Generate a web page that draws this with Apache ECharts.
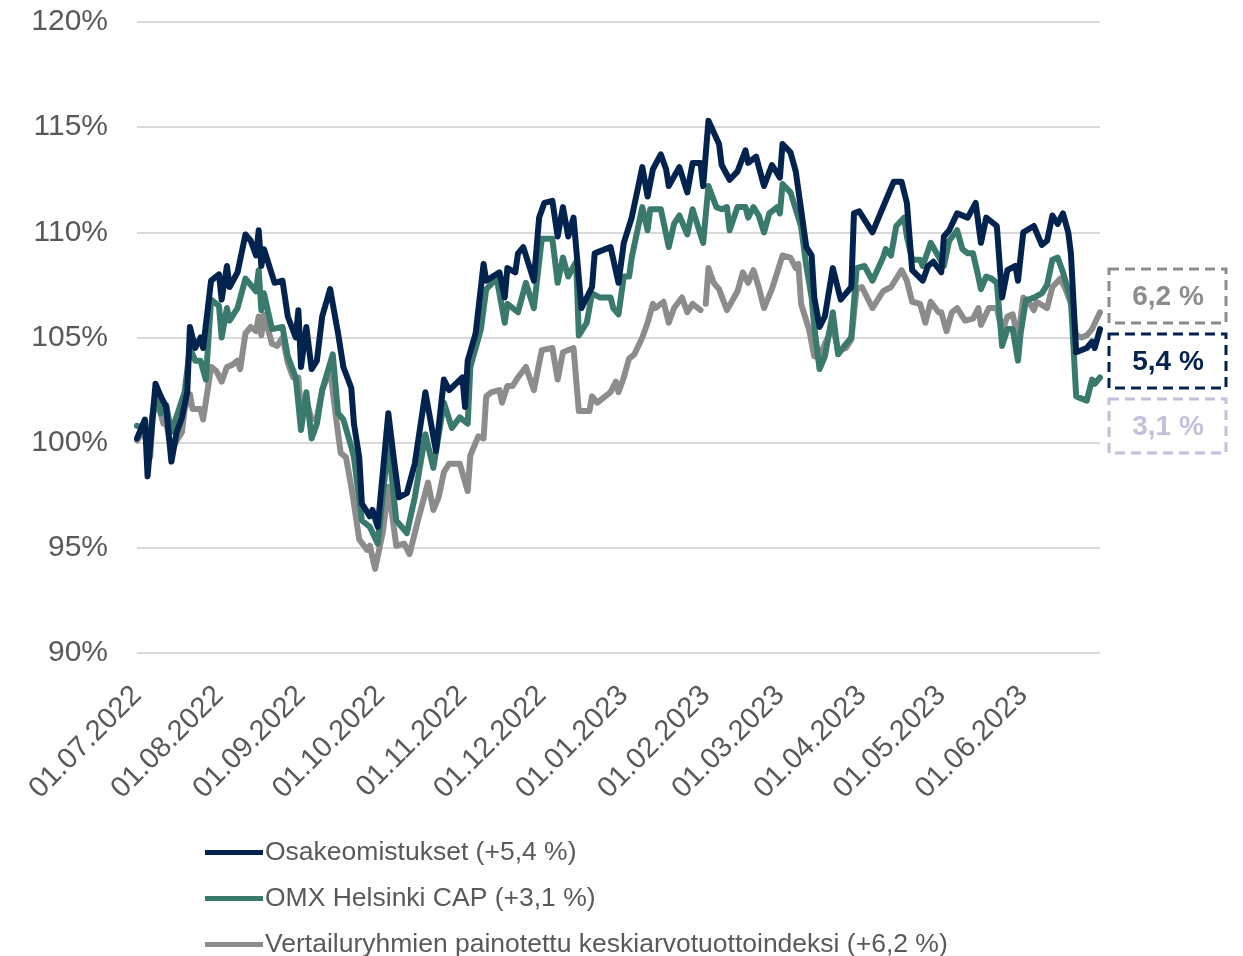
<!DOCTYPE html>
<html>
<head>
<meta charset="utf-8">
<script src="https://cdn.jsdelivr.net/npm/echarts@6/dist/echarts.min.js"></script>
<style>
  body { margin: 0; background: #fff; }
  #main { width: 1243px; height: 956px; }
</style>
</head>
<body>
<div id="main"></div>
<script>
// indeksi, 1.7.2022 = 100
var startDate = "2022-07-01";
var endDate = "2023-06-30";

var osakeomistukset = [
  ["2022-07-01",100.2],["2022-07-04",101.1],["2022-07-05",98.4],["2022-07-08",102.8],["2022-07-10",102.2],
  ["2022-07-12",101.7],["2022-07-14",99.1],["2022-07-16",100.5],["2022-07-18",101.2],["2022-07-20",102.4],
  ["2022-07-21",105.5],["2022-07-23",104.5],["2022-07-25",105.0],["2022-07-26",104.5],["2022-07-29",107.7],
  ["2022-08-01",108.0],["2022-08-02",106.8],["2022-08-04",108.4],["2022-08-05",107.4],["2022-08-08",108.1],
  ["2022-08-11",109.9],["2022-08-13",109.6],["2022-08-15",108.9],["2022-08-16",110.1],["2022-08-17",108.4],
  ["2022-08-18",109.2],["2022-08-22",107.6],["2022-08-25",107.7],["2022-08-27",106.0],["2022-08-30",105.0],
  ["2022-08-31",106.3],["2022-09-01",103.6],["2022-09-03",105.5],["2022-09-05",103.5],["2022-09-07",103.9],
  ["2022-09-09",106.0],["2022-09-12",107.3],["2022-09-15",105.2],["2022-09-17",103.6],["2022-09-20",102.6],
  ["2022-09-21",100.9],["2022-09-23",99.3],["2022-09-24",97.1],["2022-09-27",96.5],["2022-09-28",96.8],
  ["2022-09-30",96.0],["2022-10-04",101.4],["2022-10-06",99.3],["2022-10-08",97.4],["2022-10-11",97.6],
  ["2022-10-14",99.0],["2022-10-18",102.4],["2022-10-22",99.6],["2022-10-25",103.0],["2022-10-27",102.5],
  ["2022-11-01",103.1],["2022-11-02",101.7],["2022-11-03",103.9],["2022-11-06",105.2],["2022-11-09",108.5],
  ["2022-11-10",107.7],["2022-11-15",108.1],["2022-11-17",106.9],["2022-11-18",108.3],["2022-11-21",108.1],
  ["2022-11-22",109.0],["2022-11-24",109.3],["2022-11-28",107.7],["2022-11-30",110.7],["2022-12-02",111.4],
  ["2022-12-05",111.5],["2022-12-07",109.8],["2022-12-09",111.2],["2022-12-11",109.8],["2022-12-13",110.7],
  ["2022-12-16",106.4],["2022-12-20",107.4],["2022-12-21",109.0],["2022-12-27",109.3],["2022-12-30",107.6],
  ["2023-01-01",109.5],["2023-01-04",110.7],["2023-01-08",113.1],["2023-01-10",111.7],["2023-01-12",113.0],
  ["2023-01-15",113.7],["2023-01-17",113.0],["2023-01-18",112.2],["2023-01-22",113.1],["2023-01-25",111.9],
  ["2023-01-27",113.3],["2023-01-30",113.3],["2023-01-31",112.2],["2023-02-02",115.3],["2023-02-06",114.2],
  ["2023-02-07",113.2],["2023-02-10",112.5],["2023-02-13",112.9],["2023-02-16",113.9],["2023-02-17",113.3],
  ["2023-02-20",113.6],["2023-02-23",112.2],["2023-02-26",113.2],["2023-03-01",112.6],["2023-03-02",114.2],
  ["2023-03-05",113.8],["2023-03-07",112.9],["2023-03-11",109.3],["2023-03-13",108.9],["2023-03-14",106.9],
  ["2023-03-16",105.5],["2023-03-18",106.0],["2023-03-21",108.3],["2023-03-24",106.8],["2023-03-28",107.4],
  ["2023-03-29",110.9],["2023-03-31",111.0],["2023-04-05",110.0],["2023-04-08",110.9],["2023-04-10",111.5],
  ["2023-04-13",112.4],["2023-04-16",112.4],["2023-04-18",111.4],["2023-04-20",108.2],["2023-04-24",107.7],
  ["2023-04-26",108.4],["2023-04-28",108.6],["2023-05-01",108.1],["2023-05-02",109.8],["2023-05-04",110.1],
  ["2023-05-07",110.9],["2023-05-11",110.7],["2023-05-14",111.4],["2023-05-16",109.5],["2023-05-18",110.7],
  ["2023-05-22",110.3],["2023-05-24",106.9],["2023-05-26",108.2],["2023-05-29",108.4],["2023-05-30",107.7],
  ["2023-06-01",110.0],["2023-06-05",110.3],["2023-06-08",109.4],["2023-06-10",109.6],["2023-06-12",110.8],
  ["2023-06-14",110.4],["2023-06-16",110.9],["2023-06-18",110.0],["2023-06-19",109.0],["2023-06-21",104.3],
  ["2023-06-25",104.5],["2023-06-27",104.8],["2023-06-28",104.5],["2023-06-30",105.4]
];

var omxHelsinkiCap = [
  ["2022-07-01",100.8],["2022-07-04",100.7],["2022-07-05",99.5],["2022-07-08",102.4],["2022-07-10",101.4],
  ["2022-07-12",101.8],["2022-07-14",100.5],["2022-07-19",102.4],["2022-07-21",104.5],["2022-07-23",103.9],
  ["2022-07-25",103.9],["2022-07-27",103.0],["2022-07-29",106.8],["2022-08-01",106.5],["2022-08-02",105.0],
  ["2022-08-04",106.4],["2022-08-05",105.8],["2022-08-08",106.4],["2022-08-11",107.8],["2022-08-15",107.2],
  ["2022-08-16",108.2],["2022-08-17",106.3],["2022-08-18",107.1],["2022-08-21",105.4],["2022-08-25",105.5],
  ["2022-08-27",104.1],["2022-08-30",103.1],["2022-09-01",100.6],["2022-09-03",102.4],["2022-09-05",100.2],
  ["2022-09-07",100.9],["2022-09-09",102.5],["2022-09-13",104.2],["2022-09-15",101.4],["2022-09-17",101.1],
  ["2022-09-20",99.8],["2022-09-21",99.3],["2022-09-23",97.3],["2022-09-24",96.3],["2022-09-27",96.0],
  ["2022-09-30",95.2],["2022-10-04",100.0],["2022-10-07",96.3],["2022-10-11",95.7],["2022-10-14",97.4],
  ["2022-10-18",100.4],["2022-10-21",98.8],["2022-10-25",101.9],["2022-10-28",100.7],["2022-10-31",101.2],
  ["2022-11-03",100.9],["2022-11-04",103.6],["2022-11-08",105.4],["2022-11-10",107.3],["2022-11-14",107.8],
  ["2022-11-17",105.7],["2022-11-18",106.6],["2022-11-22",106.2],["2022-11-25",107.6],["2022-11-28",106.4],
  ["2022-12-01",109.7],["2022-12-05",109.7],["2022-12-07",107.6],["2022-12-09",108.8],["2022-12-11",107.9],
  ["2022-12-14",108.6],["2022-12-15",105.1],["2022-12-18",105.7],["2022-12-20",107.1],["2022-12-23",106.9],
  ["2022-12-27",106.9],["2022-12-28",106.4],["2022-12-30",106.1],["2023-01-01",107.9],["2023-01-03",107.9],
  ["2023-01-04",108.8],["2023-01-08",111.2],["2023-01-10",110.1],["2023-01-11",111.1],["2023-01-15",111.1],
  ["2023-01-18",109.3],["2023-01-20",110.4],["2023-01-22",110.8],["2023-01-25",109.9],["2023-01-27",111.1],
  ["2023-01-31",109.5],["2023-02-02",112.2],["2023-02-05",111.2],["2023-02-07",111.1],["2023-02-09",111.2],
  ["2023-02-10",110.1],["2023-02-13",111.2],["2023-02-16",111.2],["2023-02-17",110.7],["2023-02-19",111.2],
  ["2023-02-21",110.8],["2023-02-23",110.0],["2023-02-25",110.9],["2023-02-28",111.2],["2023-03-01",110.9],
  ["2023-03-02",112.3],["2023-03-05",111.9],["2023-03-07",111.1],["2023-03-09",110.3],["2023-03-11",108.4],
  ["2023-03-13",106.9],["2023-03-14",105.5],["2023-03-16",103.5],["2023-03-18",104.1],["2023-03-21",106.2],
  ["2023-03-23",104.2],["2023-03-26",104.7],["2023-03-28",105.0],["2023-03-30",108.3],["2023-04-02",108.4],
  ["2023-04-05",107.7],["2023-04-09",108.8],["2023-04-10",109.2],["2023-04-12",108.9],["2023-04-14",110.3],
  ["2023-04-17",110.7],["2023-04-18",109.8],["2023-04-20",108.7],["2023-04-23",108.7],["2023-04-24",108.4],
  ["2023-04-27",109.5],["2023-05-02",108.4],["2023-05-04",109.6],["2023-05-07",110.1],["2023-05-09",109.2],
  ["2023-05-11",109.0],["2023-05-13",109.0],["2023-05-15",107.9],["2023-05-16",107.3],["2023-05-18",107.9],
  ["2023-05-20",107.8],["2023-05-22",107.6],["2023-05-24",104.6],["2023-05-26",105.4],["2023-05-28",105.4],
  ["2023-05-30",103.9],["2023-05-31",105.2],["2023-06-02",106.8],["2023-06-03",106.8],["2023-06-05",106.9],
  ["2023-06-08",107.1],["2023-06-10",107.5],["2023-06-12",108.7],["2023-06-14",108.8],["2023-06-16",108.1],
  ["2023-06-19",106.8],["2023-06-21",102.2],["2023-06-25",102.0],["2023-06-27",103.0],["2023-06-28",102.8],
  ["2023-06-30",103.1]
];

// "-" = puuttuva arvo (viivassa katko)
var vertailuryhmat = [
  ["2022-07-01",100.1],["2022-07-03",100.5],["2022-07-04",100.3],["2022-07-06",99.3],["2022-07-07",101.4],
  ["2022-07-09",101.8],["2022-07-11",100.9],["2022-07-12",101.0],["2022-07-14",99.6],["2022-07-16",100.1],
  ["2022-07-18",100.5],["2022-07-19",101.6],["2022-07-21",102.3],["2022-07-22",101.6],["2022-07-25",101.6],
  ["2022-07-26",101.1],["2022-07-29",103.6],["2022-07-31",103.4],["2022-08-02",102.9],["2022-08-04",103.6],
  ["2022-08-06",103.7],["2022-08-08",103.9],["2022-08-09",103.5],["2022-08-11",105.2],["2022-08-13",105.5],
  ["2022-08-15",105.3],["2022-08-16",106.0],["2022-08-17",105.1],["2022-08-18",106.1],["2022-08-21",104.7],
  ["2022-08-23",104.6],["2022-08-25",105.0],["2022-08-27",103.8],["2022-08-29",103.1],["2022-08-31",103.1],
  ["2022-09-01",101.4],["2022-09-03",102.0],["2022-09-05",101.1],["2022-09-07",101.2],["2022-09-09",102.5],
  ["2022-09-12",103.5],["2022-09-14",101.4],["2022-09-16",99.5],["2022-09-18",99.3],["2022-09-20",97.9],
  ["2022-09-21",97.1],["2022-09-23",95.4],["2022-09-26",94.9],["2022-09-27",95.1],["2022-09-29",94.0],
  ["2022-10-02",95.8],["2022-10-04",97.9],["2022-10-07",95.1],["2022-10-10",95.2],["2022-10-12",94.7],
  ["2022-10-15",96.2],["2022-10-19",98.1],["2022-10-21",96.8],["2022-10-23",97.4],["2022-10-25",98.6],
  ["2022-10-27",99.0],["2022-10-31",99.0],["2022-11-03",97.7],["2022-11-04",99.4],["2022-11-07",100.3],
  ["2022-11-09",100.2],["2022-11-10",102.2],["2022-11-12",102.4],["2022-11-15",102.5],["2022-11-16",101.9],
  ["2022-11-18",102.7],["2022-11-20",102.7],["2022-11-22",103.1],["2022-11-25",103.6],["2022-11-28",102.5],
  ["2022-12-01",104.4],["2022-12-05",104.5],["2022-12-07",103.0],["2022-12-09",104.3],["2022-12-13",104.5],
  ["2022-12-15",101.5],["2022-12-19",101.5],["2022-12-20",102.2],["2022-12-22",101.9],["2022-12-27",102.4],
  ["2022-12-29",102.9],["2022-12-30",102.4],["2023-01-01",103.1],["2023-01-03",104.0],["2023-01-05",104.2],
  ["2023-01-08",105.0],["2023-01-10",105.7],["2023-01-12",106.6],["2023-01-13",106.4],["2023-01-16",106.7],
  ["2023-01-18",105.7],["2023-01-20",106.4],["2023-01-23",106.9],["2023-01-25",106.2],["2023-01-27",106.6],
  ["2023-01-30",106.3],["2023-01-31","-"],["2023-02-01",106.6],["2023-02-02",108.3],["2023-02-04",107.6],
  ["2023-02-06",107.3],["2023-02-09",106.3],["2023-02-13",107.2],["2023-02-15",108.1],["2023-02-17",107.6],
  ["2023-02-19",108.2],["2023-02-21",107.4],["2023-02-23",106.4],["2023-02-26",107.3],["2023-02-28",108.1],
  ["2023-03-02",108.9],["2023-03-05",108.8],["2023-03-07",108.3],["2023-03-08",108.5],["2023-03-09",106.6],
  ["2023-03-12",105.4],["2023-03-14",104.1],["2023-03-16",104.1],["2023-03-18",104.7],["2023-03-21",105.5],
  ["2023-03-23",104.4],["2023-03-26",104.5],["2023-03-28",104.9],["2023-03-30",107.3],["2023-04-01",107.4],
  ["2023-04-05",106.4],["2023-04-09",107.2],["2023-04-12",107.4],["2023-04-16",108.2],["2023-04-18",107.7],
  ["2023-04-20",106.7],["2023-04-23",106.6],["2023-04-25",105.7],["2023-04-27",106.7],["2023-04-30",106.2],
  ["2023-05-01",106.2],["2023-05-03",105.3],["2023-05-05",106.2],["2023-05-07",106.4],["2023-05-10",105.8],
  ["2023-05-13",105.9],["2023-05-15",106.4],["2023-05-16",105.6],["2023-05-19",106.4],["2023-05-22",106.4],
  ["2023-05-24",105.3],["2023-05-26",106.0],["2023-05-28",106.1],["2023-05-30",104.9],["2023-06-01",106.9],
  ["2023-06-03",106.7],["2023-06-05",106.3],["2023-06-06",106.7],["2023-06-10",106.4],["2023-06-12",107.4],
  ["2023-06-15",107.8],["2023-06-17",107.3],["2023-06-19",106.6],["2023-06-21",105.1],["2023-06-23",105.0],
  ["2023-06-25",105.1],["2023-06-27",105.4],["2023-06-30",106.2]
];

var seriesNames = [
  "Osakeomistukset (+5,4 %)",
  "OMX Helsinki CAP (+3,1 %)",
  "Vertailuryhmien painotettu keskiarvotuottoindeksi (+6,2 %)"
];
var seriesColors = ["#03234f", "#3a7a6d", "#8c8c8c"];

// laatikot oikealla
var boxLabels = ["6,2 %", "5,4 %", "3,1 %"];
var boxColors = ["#8c8c8c", "#03234f", "#c4c0dc"];

var yTicks = [90, 95, 100, 105, 110, 115, 120];

// päivittäiset kategoriat
var days = [];
var d = new Date(startDate + "T00:00:00Z");
var last = new Date(endDate + "T00:00:00Z");
while (d <= last) {
  days.push(d.toISOString().slice(0, 10));
  d.setUTCDate(d.getUTCDate() + 1);
}

function fiDate(iso) {
  var p = iso.split("-");
  return p[2] + "." + p[1] + "." + p[0];
}

var font = "Liberation Sans, Arial, sans-serif";
var chart = echarts.init(document.getElementById("main"));

var graphics = [];
boxLabels.forEach(function (txt, i) {
  var top = 269 + i * 65;
  graphics.push({
    type: "rect",
    shape: { x: 1109, y: top, width: 117, height: 54 },
    style: { fill: "none", stroke: boxColors[i], lineWidth: 3, lineDash: [10, 6] }
  });
  graphics.push({
    type: "text",
    x: 1168,
    y: top + 28,
    style: {
      text: txt,
      fill: boxColors[i],
      font: "bold 28px " + font,
      textAlign: "center",
      textVerticalAlign: "middle"
    }
  });
});

chart.setOption({
  animation: false,
  backgroundColor: "#fff",
  grid: { left: 137, right: 143, top: 22, bottom: 303 },
  legend: {
    orient: "vertical",
    left: 205,
    top: 839,
    width: 900,
    height: 140,
    padding: 0,
    itemWidth: 58,
    itemHeight: 5,
    itemGap: 19,
    icon: "rect",
    textStyle: { fontSize: 26.5, color: "#595959", fontFamily: font, lineHeight: 26, padding: [0, 0, 0, -3] },
    data: seriesNames
  },
  xAxis: {
    type: "category",
    data: days,
    boundaryGap: false,
    axisLine: { show: false },
    axisTick: { show: false },
    axisLabel: {
      rotate: 45,
      margin: 38,
      fontSize: 29,
      color: "#595959",
      fontFamily: font,
      interval: function (idx, val) { return val.slice(8) === "01"; },
      formatter: fiDate
    },
    splitLine: { show: false }
  },
  yAxis: {
    type: "value",
    min: yTicks[0],
    max: yTicks[yTicks.length - 1],
    interval: 5,
    axisLine: { show: false },
    axisTick: { show: false },
    axisLabel: { fontSize: 30, color: "#595959", fontFamily: font, margin: 29, formatter: "{value}%" },
    splitLine: { lineStyle: { color: "#d9d9d9", width: 2 } }
  },
  series: [osakeomistukset, omxHelsinkiCap, vertailuryhmat].map(function (data, i) {
    return {
      name: seriesNames[i],
      type: "line",
      data: data,
      showSymbol: false,
      connectNulls: false,
      z: 3 - i,
      lineStyle: { color: seriesColors[i], width: 6, join: "round", cap: "round" },
      itemStyle: { color: seriesColors[i] }
    };
  }),
  graphic: graphics
});
</script>
</body>
</html>
